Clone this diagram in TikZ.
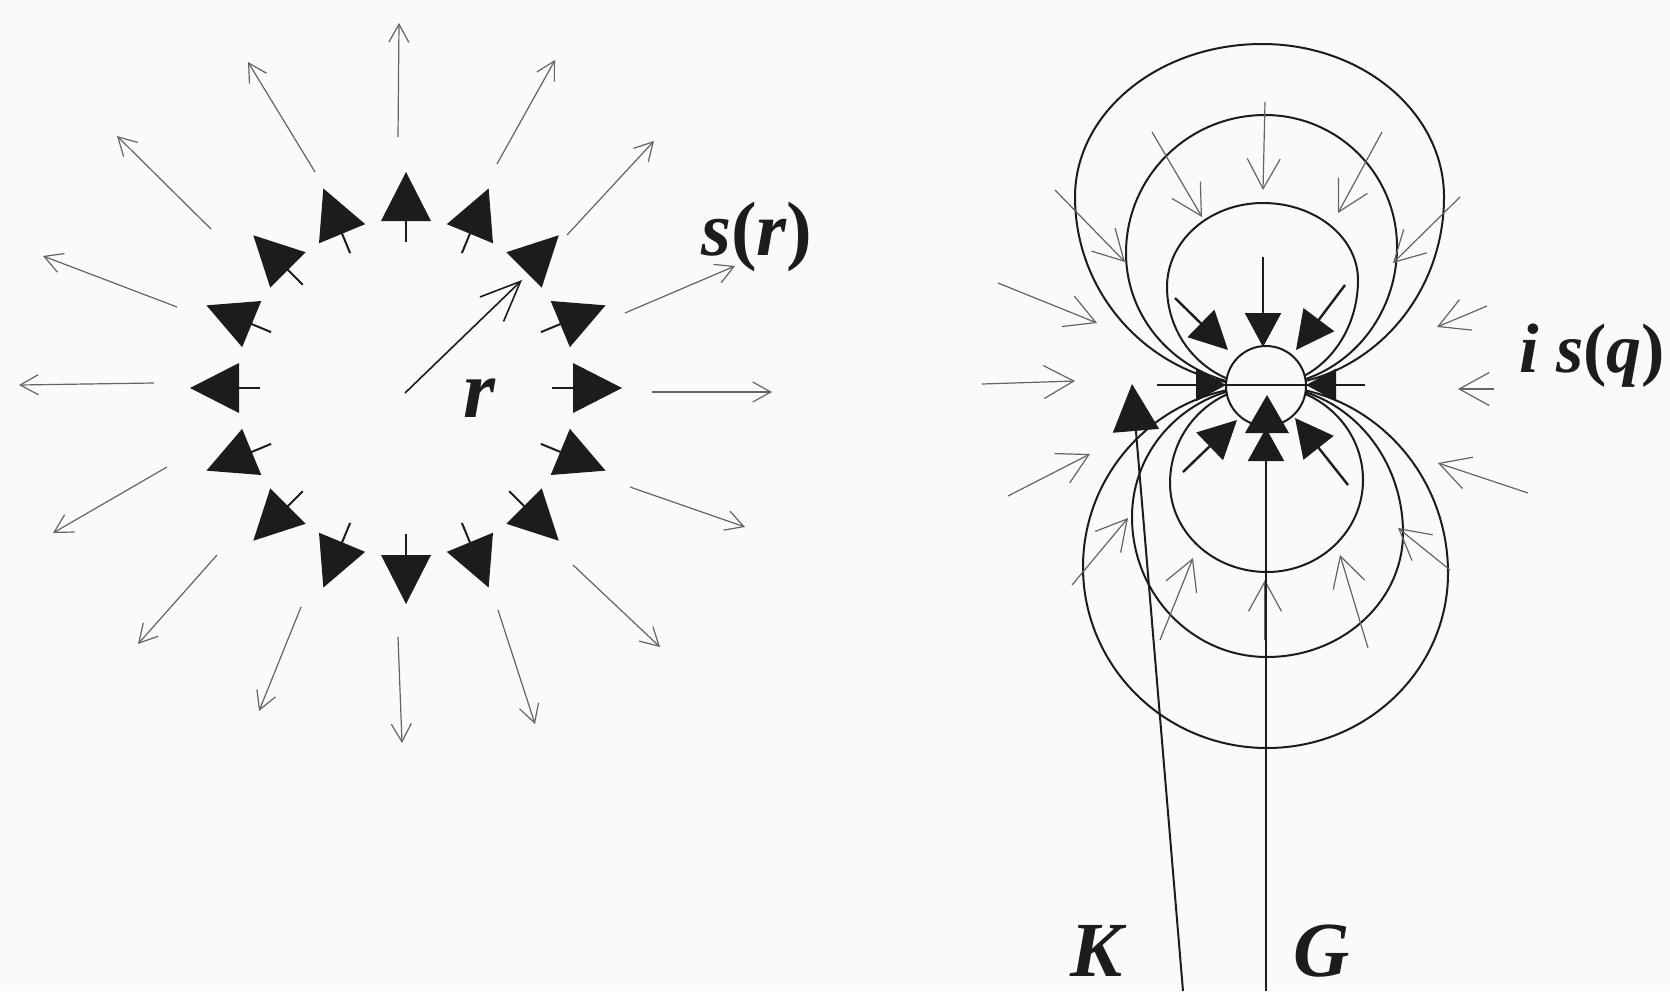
\documentclass[tikz,border=0pt]{standalone}
\usepackage{fontspec}
\setmainfont{Liberation Serif}
\usetikzlibrary{arrows.meta,calc}
\definecolor{bg}{RGB}{250,250,250}
\definecolor{ink}{RGB}{28,28,28}
\definecolor{thinink}{RGB}{100,100,100}
\def\kk{0.5523}
\newcommand{\dipoleloop}[8]{%
 \draw[loopline] (#1,#2) .. controls ($(#1,#2)!\kk!(#3,#2)$) and ($(#3,#4)!\kk!(#3,#2)$) .. (#3,#4)
   .. controls ($(#3,#4)!\kk!(#3,#6)$) and ($(#5,#6)!\kk!(#3,#6)$) .. (#5,#6)
   .. controls ($(#5,#6)!\kk!(#7,#6)$) and ($(#7,#8)!\kk!(#7,#6)$) .. (#7,#8)
   .. controls ($(#7,#8)!\kk!(#7,#2)$) and ($(#1,#2)!\kk!(#7,#2)$) .. cycle;}
\tikzset{
  loopline/.style={draw=ink, line width=2pt},
  thinL/.style={draw=thinink, line width=1.2pt, -{Straight Barb[length=18pt,width=20pt]}},
  thinR/.style={draw=thinink, line width=1.2pt, -{Straight Barb[length=30pt,width=33pt]}},
  stemline/.style={draw=ink, line width=2pt},
  tarrow/.style={draw=ink, line width=2.4pt},
  label/.style={inner sep=0pt, anchor=base west, text=ink, text depth=0pt}
}
\begin{document}
\begin{tikzpicture}[x=1pt,y=-1pt]
\fill[bg] (0,0) rectangle (1670,991);
\useasboundingbox (0,0) rectangle (1670,991);

% ---------------- left figure ----------------
\coordinate (O) at (406,388);
\foreach \sx/\sy/\ex/\ey in {652/392/772/392, 625/313/735/266, 567/235/654/141,
  497/164/555/60, 398/137/399/23, 315/172/248/62, 211/229/117/136, 177/307/43/256,
  154/383/19/385, 167/467/53/533, 217/555/138/644, 301/607/259/711, 398/637/402/743,
  498/610/535/724, 573/565/660/647, 630/487/745/527}
  \draw[thinL] (\sx,\sy) -- (\ex,\ey);

\foreach \a in {0,22.5,...,337.5}{
  \fill[ink] ($(O)+(\a:216)$) -- ($(O)+(\a:167)+(\a+90:25)$) -- ($(O)+(\a:167)+(\a-90:25)$) -- cycle;
  \ifdim\a pt=315pt\else \draw[stemline] ($(O)+(\a:146)$) -- ($(O)+(\a:168)$);\fi
}
\coordinate (Rtip) at (522,280);
\draw[draw=ink, line width=1.6pt, -{Straight Barb[length=40pt,width=34pt]}] (405,393) -- (Rtip);
\node[label, font=\fontsize{82pt}{90pt}\selectfont\bfseries\itshape] (rlab) at (463,417) {r};
\node[label, font=\fontsize{77pt}{90pt}\selectfont\bfseries] (srlab) at (701,255) {\itshape s\upshape(\itshape r\upshape)};

% ---------------- right figure ----------------
\dipoleloop{1264}{386}{1075}{197}{1262}{44}{1444}{197}
\dipoleloop{1264}{386}{1126}{253}{1265}{115}{1397}{247}
\dipoleloop{1264}{386}{1167}{287}{1263}{203}{1358}{280}
\dipoleloop{1266}{386}{1083}{567}{1267}{748}{1448}{573}
\dipoleloop{1266}{386}{1132}{517}{1267}{657}{1403}{533}
\dipoleloop{1266}{386}{1170}{483}{1267}{572}{1363}{480}

\node[circle, draw=ink, line width=2pt, fill=bg, minimum size=80pt, inner sep=0pt] (core) at (1266,386) {};
\draw[ink, line width=2.2pt] (1157,385) -- (1365,385);

% thin inward arrows
\foreach \sx/\sy/\ex/\ey in {1265/102/1263/190, 1152/132/1202/217, 1382/132/1338/213,
  1055/190/1125/262, 1460/197/1393/263, 998/283/1097/323, 982/384/1075/381,
  1487/306/1437/327, 1494/389/1458/389, 1528/493/1438/463, 1008/496/1090/454,
  1072/585/1128/518, 1160/640/1193/558, 1265/640/1265/580, 1368/648/1340/555,
  1450/570/1398/528}
  \draw[thinR] (\sx,\sy) -- (\ex,\ey);

% thick inward arrows
\draw[tarrow, -{Triangle[length=34pt,width=36pt]}] (1263,257) -- (1263,347);
\draw[tarrow, -{Triangle[length=38pt,width=38pt]}] (1175,298) -- (1228,350);
\draw[tarrow, -{Triangle[length=38pt,width=38pt]}] (1345,285) -- (1296,350);
\draw[tarrow, -{Triangle[length=30pt,width=32pt]}] (1157,385) -- (1226,385);
\draw[tarrow, -{Triangle[length=30pt,width=32pt]}] (1365,385) -- (1306,385);
\draw[tarrow, -{Triangle[length=38pt,width=38pt]}] (1183,472) -- (1237,420);
\draw[tarrow, -{Triangle[length=38pt,width=38pt]}] (1348,485) -- (1295,418);
\fill[ink] (1267,395) -- (1245,433) -- (1289,433) -- cycle;

% G and K
\coordinate (Gfoot) at (1266,991);
\coordinate (Kfoot) at (1183,991);
\draw[draw=ink, line width=2pt, -{Triangle[length=33pt,width=36pt]}] (Gfoot) -- (1266,428);
\draw[draw=ink, line width=2pt, -{Triangle[length=47pt,width=46pt]}] (Kfoot) -- (1132,384);

\node[label, font=\fontsize{78pt}{90pt}\selectfont\bfseries\itshape] (Klab) at (1070,976) {K};
\node[label, font=\fontsize{78pt}{90pt}\selectfont\bfseries\itshape] (Glab) at (1293,976) {G};
\node[label, font=\fontsize{70pt}{80pt}\selectfont\bfseries] (isq) at (1519,372) {\itshape i s\upshape(\itshape q\upshape)};
\end{tikzpicture}
\end{document}
